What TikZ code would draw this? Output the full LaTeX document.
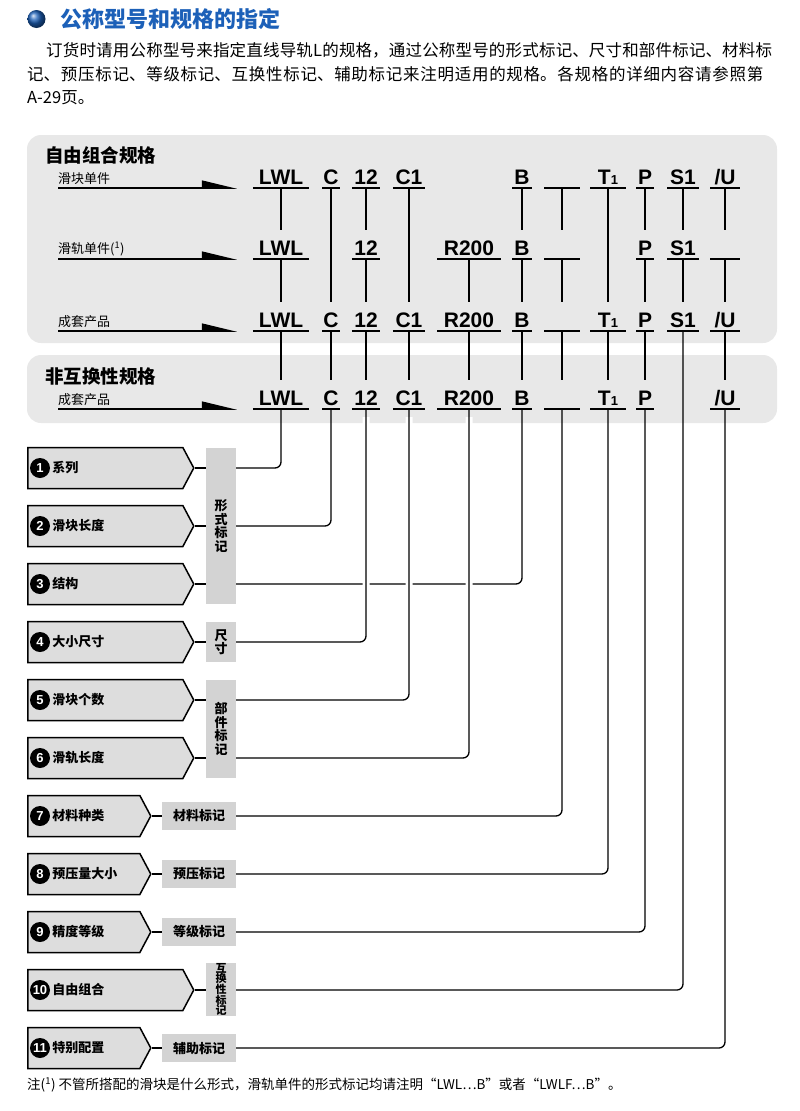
\documentclass[tikz,border=0pt]{standalone}
\usepackage{fontspec}
\setmainfont{Liberation Sans}
\newfontfamily\cjk{Noto Sans CJK SC}
\usetikzlibrary{shapes,shapes.symbols,arrows.meta,positioning}
\definecolor{titleblue}{RGB}{28,96,184}
\definecolor{panelgray}{RGB}{232,232,232}
\definecolor{itemgray}{RGB}{221,221,221}
\definecolor{markgray}{RGB}{211,211,211}
\XeTeXlinebreaklocale "zh"
\XeTeXlinebreakskip=0pt plus 2pt

\begin{document}
\begin{tikzpicture}[x=1pt, y=-1pt,
    panelbox/.style={fill=panelgray, rounded corners=14pt},
    codebox/.style={font=\fontsize{21}{21}\selectfont\bfseries, anchor=south,
        inner xsep=0pt, inner ysep=3pt, text height=23pt, text depth=0pt,
        minimum width=#1,
        append after command={(\tikzlastnode.south west) edge[uline] (\tikzlastnode.south east)}},
    uline/.style={line width=1.8pt},
    wire/.style={draw, line width=1.3pt, rounded corners=6pt},
    crossing/.style={preaction={draw=white, line width=7pt, shorten <=8pt}},
    rowlab/.style={font=\cjk\fontsize{13}{13}\selectfont, anchor=south west, inner xsep=0pt, inner ysep=3pt},
    rowarrow/.style={line width=1.5pt, -{Triangle[harpoon, length=32pt, width=15pt]}},
    headtext/.style={font=\cjk\fontsize{18.5}{18.5}\selectfont\bfseries, anchor=west, inner sep=0pt},
    bodytext/.style={font=\cjk\fontsize{16.5}{18}\selectfont, anchor=west, inner sep=0pt},
    itembox/.style={signal, signal to=east, signal pointer angle=124, draw, line width=1.5pt,
        fill=itemgray, minimum height=41pt, minimum width=#1, inner sep=0pt, anchor=west},
    numdot/.style={circle, fill=black, text=white, font=\fontsize{13}{13}\selectfont\bfseries,
        inner sep=0pt, minimum size=20pt},
    itemlab/.style={font=\cjk\fontsize{13}{13}\selectfont\bfseries, inner sep=0pt, right=2pt of #1},
    markbox/.style={fill=markgray, inner sep=0pt, align=center, font=\cjk\fontsize{13}{13.5}\selectfont\bfseries}
]
        %--- Arguments ----
        \def \xLWL {281}   % series
        \def \xC {331}     % block type
        \def \xSize {366}  % size
        \def \xCnum {409}  % number of blocks
        \def \xRail {469}  % rail length
        \def \xB {522}     % structure
        \def \xMat {562}   % material
        \def \xT {608}     % preload
        \def \xP {645}     % accuracy
        \def \xS {683}     % interchangeable
        \def \xU {725}     % special
        \def \ya {188}
        \def \yb {259}
        \def \yc {331}
        \def \yd {409}
        \useasboundingbox (0,0) rectangle (800,1111);
        %--- Heading ---
        \node [circle, ball color=titleblue, minimum size=18pt, inner sep=0pt] (dot) at (36.5,19) {};
        \node [font=\cjk\fontsize{22}{22}\selectfont\bfseries, text=titleblue, inner sep=0pt, right=15pt of dot] (title) {公称型号和规格的指定};
        \node [bodytext, text width=729pt] (p1) at (46,50) {\noindent\parfillskip=0pt\relax 订货时请用公称型号来指定直线导轨L的规格，通过公称型号的形式标记、尺寸和部件标记、材料标\par};
        \node [bodytext, text width=748pt] (p2) at (27,74) {\noindent\parfillskip=0pt\relax 记、预压标记、等级标记、互换性标记、辅助标记来注明适用的规格。各规格的详细内容请参照第\par};
        \node [bodytext] (p3) at (27,98) {A-29页。};
        %--- Panels ---
        \fill [panelbox] (27,135) rectangle (777,343);
        \fill [panelbox] (27,355) rectangle (777,423);
        \node [headtext] (h1) at (45,155) {自由组合规格};
        \node [headtext] (h2) at (45,376) {非互换性规格};
        %--- Row labels ---
        \node [rowlab] (la) at (58,\ya) {滑块单件};
        \node [rowlab] (lb) at (58,\yb) {滑轨单件(\textsuperscript{1})};
        \node [rowlab] (lc) at (58,\yc) {成套产品};
        \node [rowlab] (ld) at (58,\yd) {成套产品};
        \coordinate (ea) at (237,\ya);
        \coordinate (eb) at (237,\yb);
        \coordinate (ec) at (237,\yc);
        \coordinate (ed) at (237,\yd);
        \draw [rowarrow] (la.south west) -- (ea);
        \draw [rowarrow] (lb.south west) -- (eb);
        \draw [rowarrow] (lc.south west) -- (ec);
        \draw [rowarrow] (ld.south west) -- (ed);
        %--- Codes ---
        % block alone
        \node [codebox=56] (a1) at (\xLWL,\ya) {LWL};
        \node [codebox=17] (a2) at (\xC,\ya) {C};
        \node [codebox=28] (a3) at (\xSize,\ya) {12};
        \node [codebox=32] (a4) at (\xCnum,\ya) {C1};
        \node [codebox=19] (a6) at (\xB,\ya) {B};
        \node [codebox=35] (a7) at (\xMat,\ya) {};
        \node [codebox=35] (a8) at (\xT,\ya) {T{\fontsize{13}{13}\selectfont 1}};
        \node [codebox=17] (a9) at (\xP,\ya) {P};
        \node [codebox=31] (a10) at (\xS,\ya) {S1};
        \node [codebox=29] (a11) at (\xU,\ya) {/U};
        % rail alone
        \node [codebox=56] (b1) at (\xLWL,\yb) {LWL};
        \node [codebox=28] (b3) at (\xSize,\yb) {12};
        \node [codebox=63] (b5) at (\xRail,\yb) {R200};
        \node [codebox=19] (b6) at (\xB,\yb) {B};
        \node [codebox=35] (b7) at (\xMat,\yb) {};
        \node [codebox=17] (b9) at (\xP,\yb) {P};
        \node [codebox=31] (b10) at (\xS,\yb) {S1};
        \node [codebox=29] (b11) at (\xU,\yb) {};
        % set, free combination
        \node [codebox=56] (c1) at (\xLWL,\yc) {LWL};
        \node [codebox=17] (c2) at (\xC,\yc) {C};
        \node [codebox=28] (c3) at (\xSize,\yc) {12};
        \node [codebox=32] (c4) at (\xCnum,\yc) {C1};
        \node [codebox=63] (c5) at (\xRail,\yc) {R200};
        \node [codebox=19] (c6) at (\xB,\yc) {B};
        \node [codebox=35] (c7) at (\xMat,\yc) {};
        \node [codebox=35] (c8) at (\xT,\yc) {T{\fontsize{13}{13}\selectfont 1}};
        \node [codebox=17] (c9) at (\xP,\yc) {P};
        \node [codebox=31] (c10) at (\xS,\yc) {S1};
        \node [codebox=29] (c11) at (\xU,\yc) {/U};
        % set, non-interchangeable
        \node [codebox=56] (d1) at (\xLWL,\yd) {LWL};
        \node [codebox=17] (d2) at (\xC,\yd) {C};
        \node [codebox=28] (d3) at (\xSize,\yd) {12};
        \node [codebox=32] (d4) at (\xCnum,\yd) {C1};
        \node [codebox=63] (d5) at (\xRail,\yd) {R200};
        \node [codebox=19] (d6) at (\xB,\yd) {B};
        \node [codebox=35] (d7) at (\xMat,\yd) {};
        \node [codebox=35] (d8) at (\xT,\yd) {T{\fontsize{13}{13}\selectfont 1}};
        \node [codebox=17] (d9) at (\xP,\yd) {P};
        \node [codebox=29] (d11) at (\xU,\yd) {/U};
        %--- Lines between rows ---
        \draw [wire] (a1) -- (b1) (b1) -- (c1) (c1) -- (d1);
        \draw [wire] (a2) -- (c2) (c2) -- (d2);
        \draw [wire] (a3) -- (b3) (b3) -- (c3) (c3) -- (d3);
        \draw [wire] (a4) -- (c4) (c4) -- (d4);
        \draw [wire] (b5) -- (c5) (c5) -- (d5);
        \draw [wire] (a6) -- (b6) (b6) -- (c6) (c6) -- (d6);
        \draw [wire] (a7) -- (b7) (b7) -- (c7) (c7) -- (d7);
        \draw [wire] (a8) -- (c8) (c8) -- (d8);
        \draw [wire] (a9) -- (b9) (b9) -- (c9) (c9) -- (d9);
        \draw [wire] (a10) -- (b10) (b10) -- (c10);
        \draw [wire] (a11) -- (b11) (b11) -- (c11) (c11) -- (d11);
        %--- Items ---
        \node [itembox=166] (it1) at (27,468) {};
        \node [numdot] (n1) at (40,468) {1};
        \node [itemlab=n1] (t1) {系列};
        \node [itembox=166] (it2) at (27,526) {};
        \node [numdot] (n2) at (40,526) {2};
        \node [itemlab=n2] (t2) {滑块长度};
        \node [itembox=166] (it3) at (27,584) {};
        \node [numdot] (n3) at (40,584) {3};
        \node [itemlab=n3] (t3) {结构};
        \node [itembox=166] (it4) at (27,642) {};
        \node [numdot] (n4) at (40,642) {4};
        \node [itemlab=n4] (t4) {大小尺寸};
        \node [itembox=166] (it5) at (27,700) {};
        \node [numdot] (n5) at (40,700) {5};
        \node [itemlab=n5] (t5) {滑块个数};
        \node [itembox=166] (it6) at (27,758) {};
        \node [numdot] (n6) at (40,758) {6};
        \node [itemlab=n6] (t6) {滑轨长度};
        \node [itembox=123] (it7) at (27,816) {};
        \node [numdot] (n7) at (40,816) {7};
        \node [itemlab=n7] (t7) {材料种类};
        \node [itembox=123] (it8) at (27,874) {};
        \node [numdot] (n8) at (40,874) {8};
        \node [itemlab=n8] (t8) {预压量大小};
        \node [itembox=123] (it9) at (27,932) {};
        \node [numdot] (n9) at (40,932) {9};
        \node [itemlab=n9] (t9) {精度等级};
        \node [itembox=166] (it10) at (27,990) {};
        \node [numdot] (n10) at (40,990) {10};
        \node [itemlab=n10] (t10) {自由组合};
        \node [itembox=123] (it11) at (27,1048) {};
        \node [numdot] (n11) at (40,1048) {11};
        \node [itemlab=n11] (t11) {特别配置};
        %--- Marks ---
        \node [markbox, minimum width=30pt, minimum height=156pt] (mk1) at (221,526) {形\\式\\标\\记};
        \node [markbox, minimum width=30pt, minimum height=40pt] (mk4) at (221,642) {尺\\寸};
        \node [markbox, minimum width=30pt, minimum height=98pt] (mk5) at (221,729) {部\\件\\标\\记};
        \node [markbox, minimum width=74pt, minimum height=28pt] (mk7) at (199,816) {材料标记};
        \node [markbox, minimum width=74pt, minimum height=28pt] (mk8) at (199,874) {预压标记};
        \node [markbox, minimum width=74pt, minimum height=28pt] (mk9) at (199,932) {等级标记};
        \node [markbox, minimum width=30pt, minimum height=53pt, font=\cjk\fontsize{11}{10.6}\selectfont\bfseries] (mk10) at (221,989.5) {互\\换\\性\\标\\记};
        \node [markbox, minimum width=74pt, minimum height=28pt] (mk11) at (199,1048) {辅助标记};
        %--- Item to mark ---
        \draw [wire] (it1.east) -- (mk1.west |- it1.east);
        \draw [wire] (it2.east) -- (mk1.west |- it2.east);
        \draw [wire] (it3.east) -- (mk1.west |- it3.east);
        \draw [wire] (it4.east) -- (mk4.west |- it4.east);
        \draw [wire] (it5.east) -- (mk5.west |- it5.east);
        \draw [wire] (it6.east) -- (mk5.west |- it6.east);
        \draw [wire] (it7.east) -- (mk7.west |- it7.east);
        \draw [wire] (it8.east) -- (mk8.west |- it8.east);
        \draw [wire] (it9.east) -- (mk9.west |- it9.east);
        \draw [wire] (it10.east) -- (mk10.west |- it10.east);
        \draw [wire] (it11.east) -- (mk11.west |- it11.east);
        %--- Codes to marks ---
        \draw [wire] (d1) |- (mk1.east |- it1);
        \draw [wire] (d2) |- (mk1.east |- it2);
        \draw [wire] (d6) |- (mk1.east |- it3);
        \draw [wire, crossing] (d3) |- (mk4.east |- it4);
        \draw [wire, crossing] (d4) |- (mk5.east |- it5);
        \draw [wire, crossing] (d5) |- (mk5.east |- it6);
        \draw [wire] (d7) |- (mk7.east |- it7);
        \draw [wire] (d8) |- (mk8.east |- it8);
        \draw [wire] (d9) |- (mk9.east |- it9);
        \draw [wire] (c10) |- (mk10.east |- it10);
        \draw [wire] (d11) |- (mk11.east |- it11);
        %--- Note ---
        \node [font=\cjk\fontsize{13.5}{13.5}\selectfont, anchor=west, inner sep=0pt] (note) at (27,1085) {注(\textsuperscript{1}) 不管所搭配的滑块是什么形式，滑轨单件的形式标记均请注明“LWL…B”或者“LWLF…B”。};
\end{tikzpicture}
\end{document}
